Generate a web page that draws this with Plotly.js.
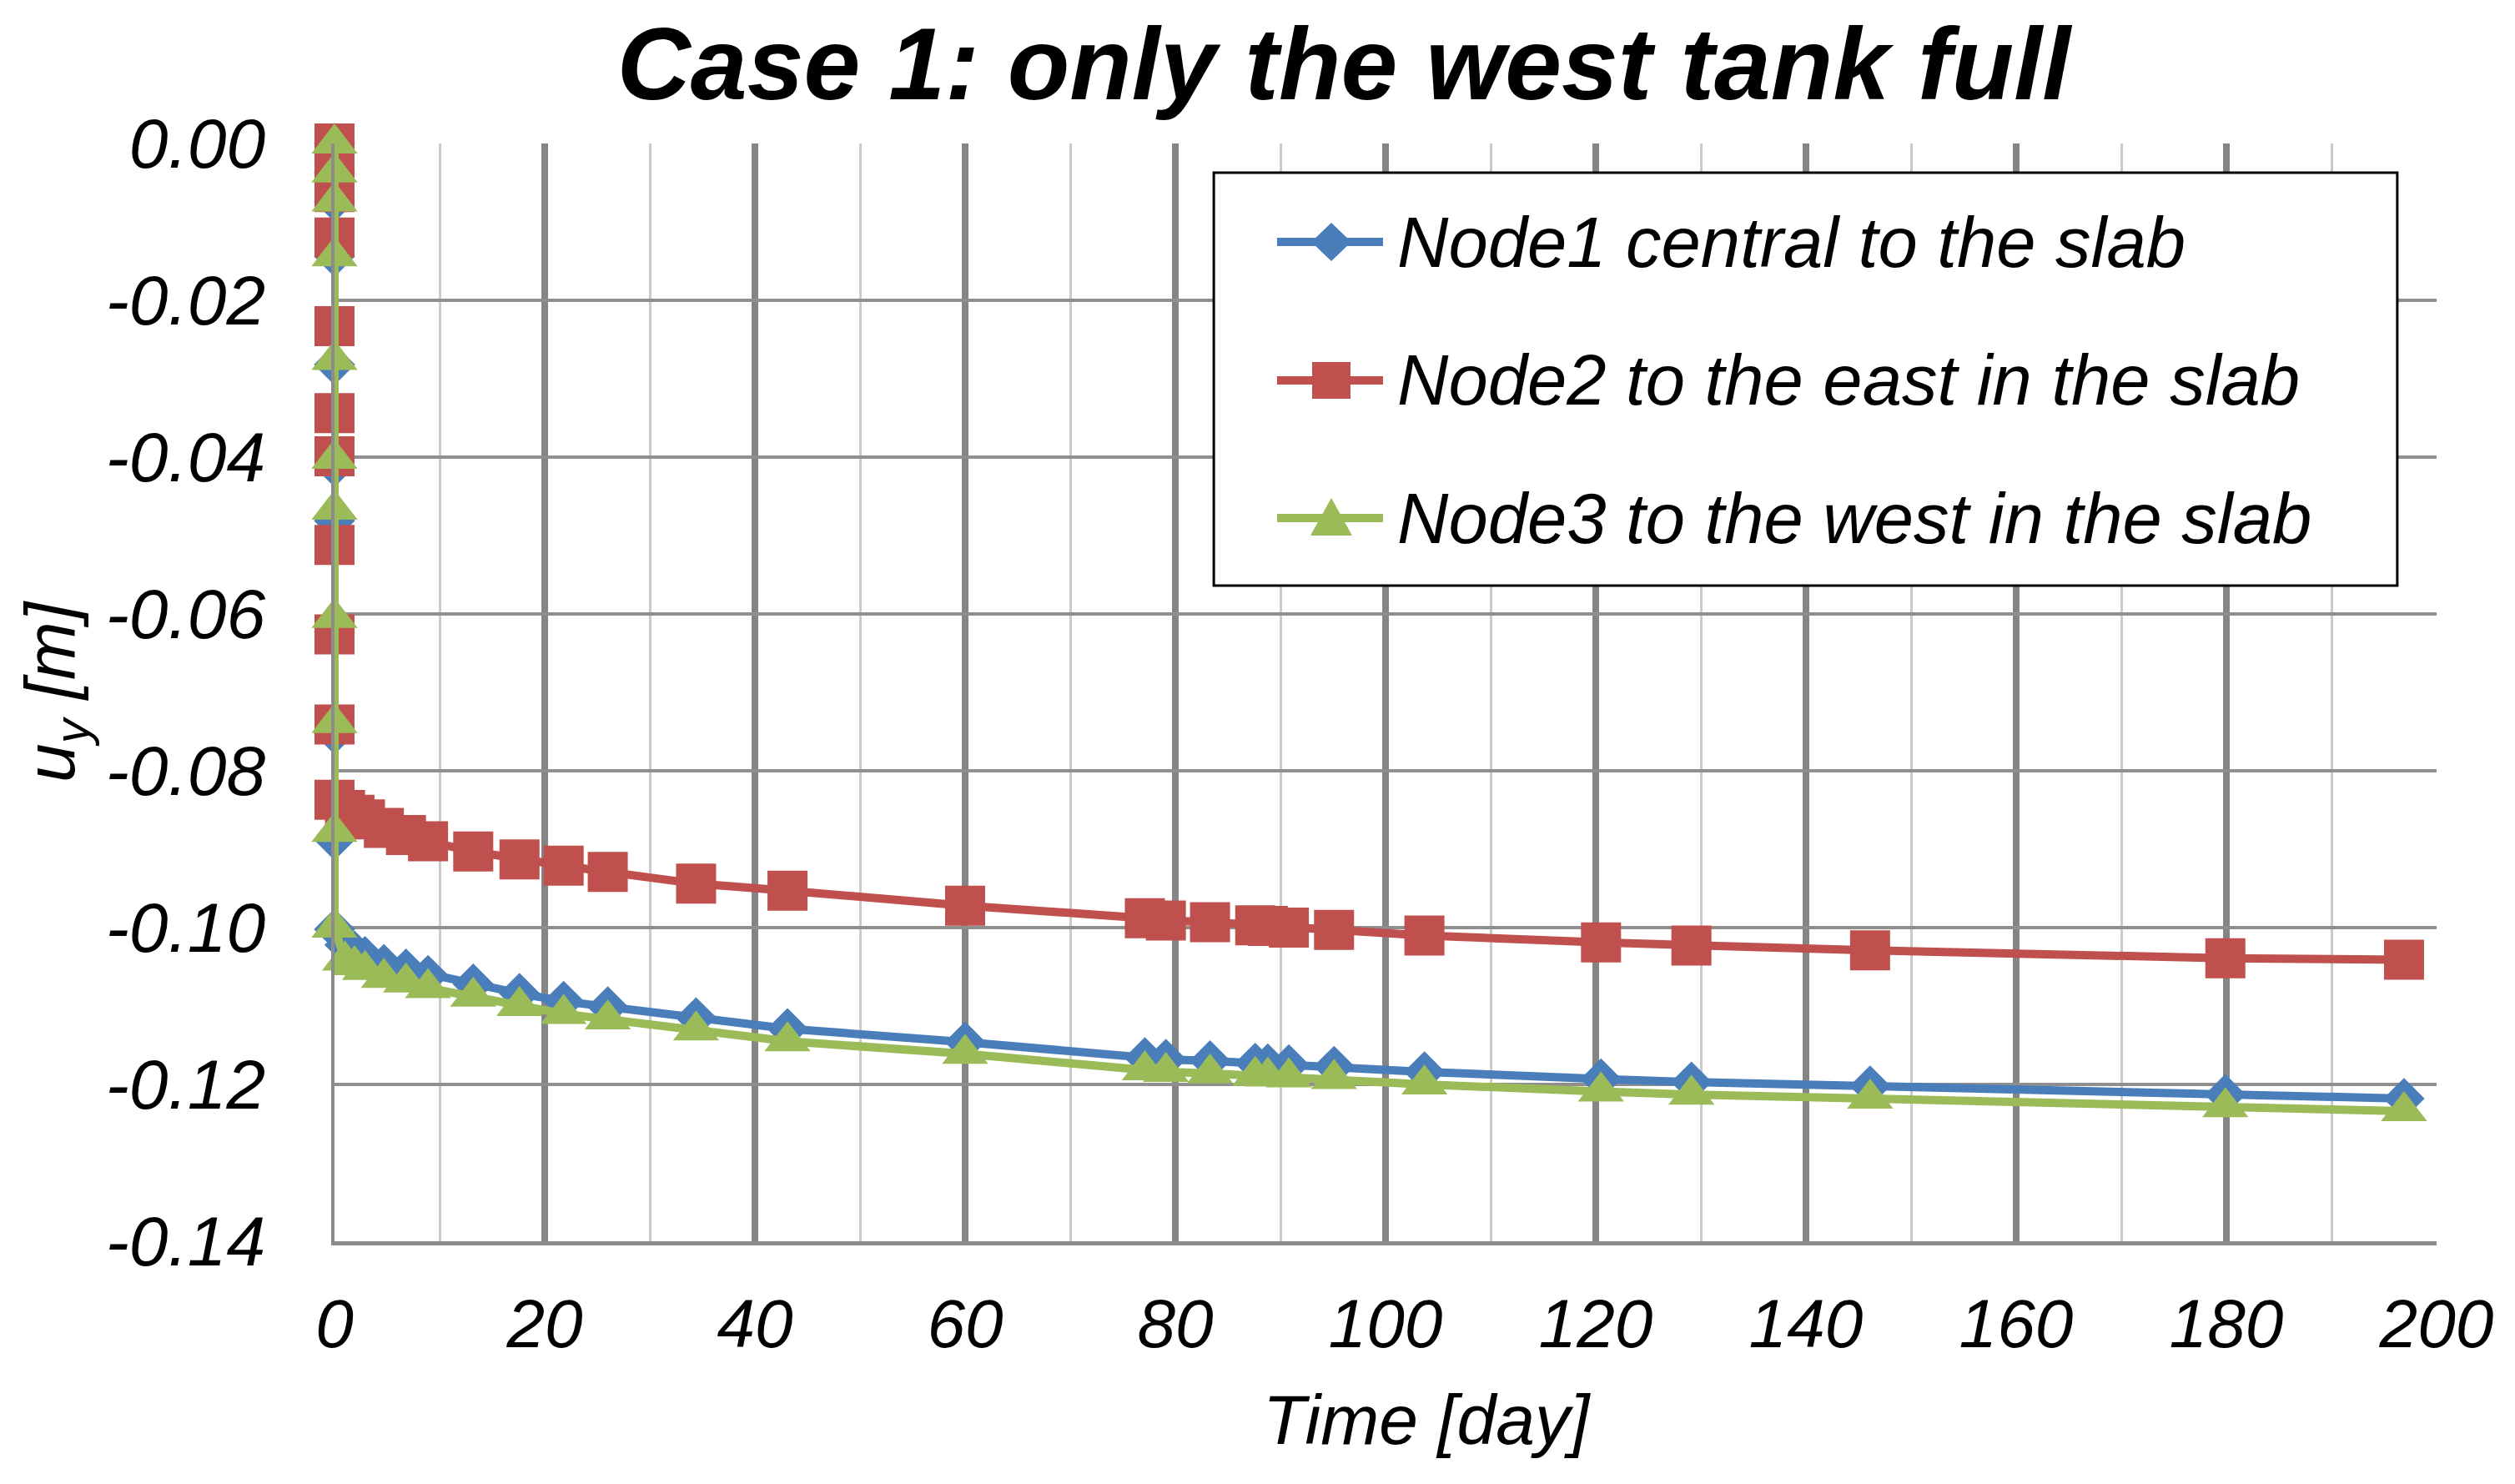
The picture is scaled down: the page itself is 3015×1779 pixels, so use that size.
<!DOCTYPE html>
<html>
<head>
<meta charset="utf-8">
<script src="https://cdn.plot.ly/plotly-3.0.1.min.js"></script>
<style>
    html, body { margin: 0; padding: 0; background: #ffffff; }
    #chart { width: 3015px; height: 1779px; }
</style>
</head>
<body>
<div id="chart"></div>
<script>
// Time steps [day]; the first eleven are the load steps at t = 0
const time = [0, 0, 0, 0, 0, 0, 0, 0, 0, 0, 0,
    1.0, 1.9, 2.9, 4.7, 6.8, 8.9, 13.2, 17.6, 21.8, 26.0, 34.4, 43.1, 60.0,
    77.1, 79.1, 83.3, 87.6, 88.8, 90.8, 95.1, 103.7, 120.5, 129.1, 146.1, 179.9, 196.9];

// Vertical displacement u_y [m]
const node1 = [0, -0.0037, -0.0074, -0.0144, -0.0282, -0.0412, -0.0481, -0.0623, -0.0753, -0.0888, -0.1002,
    -0.1022, -0.1030, -0.1037, -0.1047, -0.1053, -0.1061, -0.1072, -0.1084, -0.1094, -0.1101, -0.1115, -0.1129, -0.1146,
    -0.1166, -0.1168, -0.1170, -0.1173, -0.1174, -0.1175, -0.1177, -0.1184, -0.1193, -0.1197, -0.1202, -0.1213, -0.1218];
const node2 = [0, -0.0031, -0.0062, -0.0120, -0.0233, -0.0344, -0.0399, -0.0512, -0.0626, -0.0741, -0.0837,
    -0.0850, -0.0856, -0.0862, -0.0873, -0.0882, -0.0890, -0.0903, -0.0913, -0.0921, -0.0929, -0.0944, -0.0953, -0.0972,
    -0.0988, -0.0991, -0.0993, -0.0997, -0.0998, -0.1000, -0.1003, -0.1010, -0.1019, -0.1023, -0.1029, -0.1039, -0.1041];
const node3 = [0, -0.0037, -0.0074, -0.0144, -0.0276, -0.0402, -0.0467, -0.0605, -0.0739, -0.0878, -0.1000,
    -0.1042, -0.1048, -0.1054, -0.1064, -0.1070, -0.1077, -0.1088, -0.1100, -0.1110, -0.1117, -0.1131, -0.1145, -0.1161,
    -0.1182, -0.1184, -0.1186, -0.1189, -0.1190, -0.1191, -0.1193, -0.1200, -0.1209, -0.1213, -0.1218, -0.1229, -0.1234];

const seriesNames = ['Node1 central to the slab', 'Node2 to the east in the slab', 'Node3 to the west in the slab'];

const xTickVals = [0, 20, 40, 60, 80, 100, 120, 140, 160, 180, 200];
const yTickVals = [-0.14, -0.12, -0.10, -0.08, -0.06, -0.04, -0.02, 0];
const yTickText = ['-0.14', '-0.12', '-0.10', '-0.08', '-0.06', '-0.04', '-0.02', '0.00'];

// Styling
const COLORS = ['#4a7ebb', '#c0504d', '#9bbb59'];
const SYMBOLS = ['diamond', 'square', 'triangle-up'];
const SIZES = [38, 48, 48];
const FONT = 'Liberation Sans, Arial, sans-serif';

const series = [node1, node2, node3];
const traces = series.map((ys, i) => ({
    x: time,
    y: ys,
    type: 'scatter',
    mode: 'lines+markers',
    name: seriesNames[i],
    cliponaxis: false,
    line: { color: COLORS[i], width: 10 },
    marker: { symbol: SYMBOLS[i], size: SIZES[i], color: COLORS[i], line: { width: 0 } },
}));

// Hand-made legend (Plotly caps legend marker size), paper coordinates
const legendRows = [0.9103, 0.7842, 0.6588];
const legendPaths = [
    'M0,23 L24,0 L0,-23 L-24,0 Z',
    'M-23,-22 H23 V22 H-23 Z',
    'M-25,-21 L25,-21 L0,24 Z',
];
const shapes = [{
    type: 'rect', xref: 'paper', yref: 'paper',
    x0: 0.4183, x1: 0.9813, y0: 0.5973, y1: 0.9734,
    fillcolor: '#ffffff', line: { color: '#000000', width: 3 },
}];
const annotations = [];
legendRows.forEach((ry, i) => {
    shapes.push({
        type: 'line', xref: 'paper', yref: 'paper',
        x0: 0.4484, x1: 0.4988, y0: ry, y1: ry,
        line: { color: COLORS[i], width: 10 },
    });
    shapes.push({
        type: 'path', xref: 'paper', yref: 'paper',
        xsizemode: 'pixel', ysizemode: 'pixel',
        xanchor: 0.4742, yanchor: ry,
        path: legendPaths[i],
        fillcolor: COLORS[i], line: { width: 0 },
    });
    annotations.push({
        xref: 'paper', yref: 'paper', x: 0.5048, y: ry,
        xanchor: 'left', yanchor: 'middle', showarrow: false,
        text: seriesNames[i],
        font: { family: FONT, size: 85, color: '#000000', style: 'italic' },
    });
});

// x axis title
annotations.push({
    xref: 'paper', yref: 'paper', x: 0.5198, y: -0.1627,
    xanchor: 'center', yanchor: 'middle', showarrow: false,
    text: 'Time [day]',
    font: { family: FONT, size: 84, color: '#000000', style: 'italic' },
});

const layout = {
    width: 3015,
    height: 1779,
    margin: { l: 401, r: 94, t: 172, b: 291 },
    paper_bgcolor: '#ffffff',
    plot_bgcolor: '#ffffff',
    showlegend: false,
    font: { family: FONT, color: '#000000' },
    title: {
        text: 'Case 1: only the west tank full',
        xref: 'container', yref: 'container',
        x: 0.5343, y: 0.957, xanchor: 'center', yanchor: 'middle',
        font: { family: FONT, size: 122, color: '#000000', weight: 'bold', style: 'italic' },
    },
    xaxis: {
        range: [0, 200],
        tickmode: 'array',
        tickvals: xTickVals,
        ticks: '',
        ticklabelstandoff: 24,
        tickfont: { family: FONT, size: 82, color: '#000000', style: 'italic' },
        showgrid: true,
        gridcolor: '#858585',
        gridwidth: 8,
        minor: { tickmode: 'linear', tick0: 0, dtick: 10, showgrid: true, gridcolor: '#cacaca', gridwidth: 3 },
        showline: true,
        linecolor: '#8c8c8c',
        linewidth: 5,
        zeroline: false,
        fixedrange: true,
    },
    yaxis: {
        range: [-0.14, 0],
        tickmode: 'array',
        tickvals: yTickVals,
        ticktext: yTickText,
        ticks: '',
        ticklabelstandoff: 62,
        tickfont: { family: FONT, size: 84, color: '#000000', style: 'italic' },
        showgrid: true,
        gridcolor: '#8f8f8f',
        gridwidth: 4,
        showline: true,
        linecolor: '#8c8c8c',
        linewidth: 4,
        zeroline: false,
        fixedrange: true,
        title: {
            text: 'u<sub>y</sub> [m]',
            standoff: 10,
            font: { family: FONT, size: 84, color: '#000000', style: 'italic' },
        },
    },
    shapes: shapes,
    annotations: annotations,
};

Plotly.newPlot('chart', traces, layout, { staticPlot: true, displayModeBar: false });
</script>
</body>
</html>
